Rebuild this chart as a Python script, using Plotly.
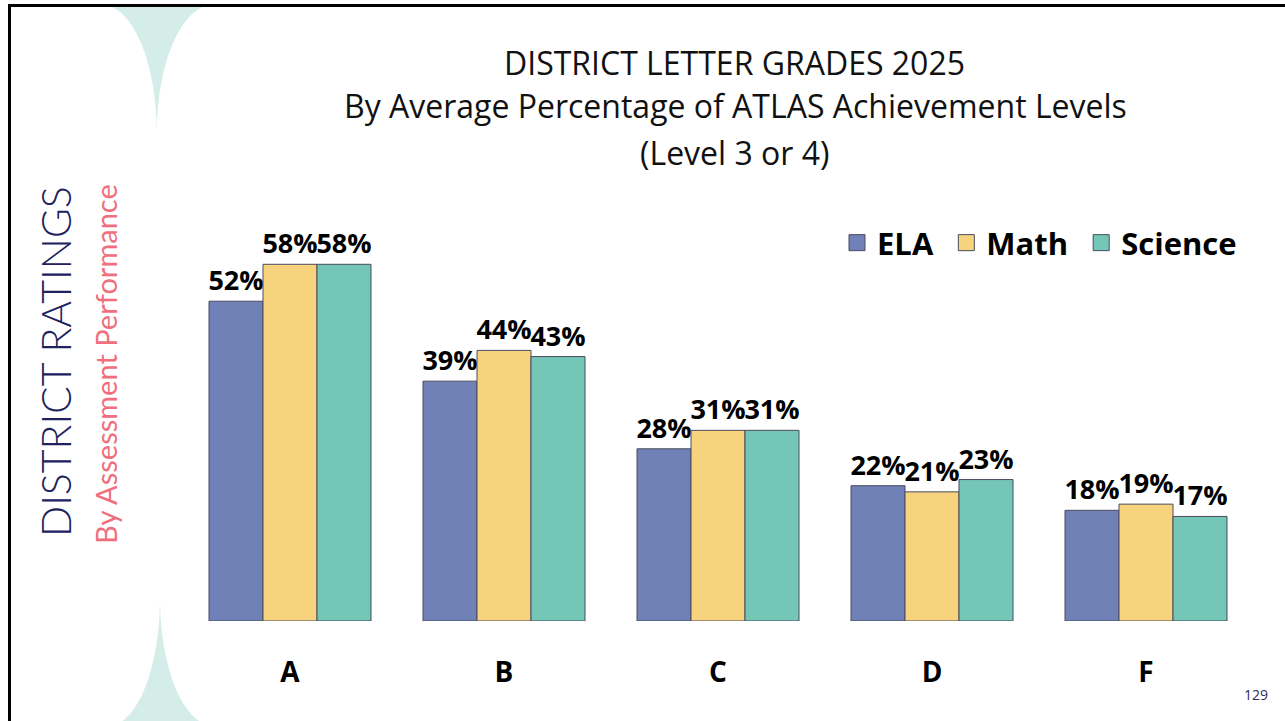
import plotly.graph_objects as go

# Achievement data: share of students at Level 3 or 4, by district letter grade
grades = ["A", "B", "C", "D", "F"]
ela = [52, 39, 28, 22, 18]
math = [58, 44, 31, 21, 19]
science = [58, 43, 31, 23, 17]

series_names = ["ELA", "Math", "Science"]
series_colors = ["#7081b8", "#f7d37d", "#74c6b6"]

W, H = 1285, 721


def px(x):
    return x / W


def py(y):
    return 1 - y / H


def path(points):
    """Build an SVG path in paper units from pixel-space commands."""
    out = []
    for cmd, *coords in points:
        pts = " ".join(f"{px(coords[i]):.5f},{py(coords[i + 1]):.5f}" for i in range(0, len(coords), 2))
        out.append(f"{cmd}{pts}")
    return " ".join(out) + " Z"


fig = go.Figure()

for name, vals, color in zip(series_names, [ela, math, science], series_colors):
    fig.add_trace(go.Bar(
        x=grades, y=vals, name=name,
        marker=dict(color=color, line=dict(color="#4b4b5e", width=1)),
        texttemplate="%{y}%", textposition="outside",
        textfont=dict(family="Open Sans", size=27, color="black", weight="bold"),
        constraintext="none", cliponaxis=False, showlegend=False,
    ))
    # legend swatch (trailing nbsp widens the gap between entries)
    fig.add_trace(go.Scatter(
        x=[None], y=[None], mode="markers", name=name + "\u00a0",
        marker=dict(symbol="square", size=20, color=color, line=dict(color="#4b4b5e", width=1)),
        showlegend=True,
    ))

teal = "#d4ede8"
shapes = [
    dict(type="path", xref="paper", yref="paper", layer="below", line=dict(width=0), fillcolor=teal,
         path=path([("M", 102, 5), ("C", 132.4, 5, 157, 62.3, 157, 133), ("C", 157, 62.3, 182, 5, 213, 5)])),
    dict(type="path", xref="paper", yref="paper", layer="below", line=dict(width=0), fillcolor=teal,
         path=path([("M", 108, 726), ("C", 136.7, 726, 160, 668.7, 160, 598), ("C", 160, 668.7, 184.2, 726, 214, 726)])),
    dict(type="rect", xref="paper", yref="paper", layer="above", line=dict(color="black", width=3),
         fillcolor="rgba(0,0,0,0)", x0=px(9.5), x1=px(1300), y0=py(5.5), y1=py(740)),
]

title_font = dict(family="Open Sans", size=32, color="#111111")
annotations = [
    dict(text="DISTRICT LETTER GRADES 2025", x=px(734), y=py(63)),
    dict(text="By Average Percentage of ATLAS Achievement Levels", x=px(735), y=py(106)),
    dict(text="(Level 3 or 4)", x=px(734), y=py(152)),
]
annotations = [dict(a, xref="paper", yref="paper", showarrow=False, xanchor="center", yanchor="middle",
                    font=title_font) for a in annotations]
annotations += [
    dict(text="DISTRICT RATINGS", x=px(55), y=py(362), textangle=-90,
         font=dict(family="Lato", size=41, color="#20215e", weight=300)),
    dict(text="By Assessment Performance", x=px(105), y=py(364), textangle=-90,
         font=dict(family="Lato", size=29, color="#ef6f7e")),
    dict(text="129", x=px(1256), y=py(694),
         font=dict(family="Open Sans", size=14, color="#2e2e5e")),
]
for a in annotations[3:]:
    a.update(xref="paper", yref="paper", showarrow=False, xanchor="center", yanchor="middle")

fig.update_layout(
    width=W, height=H,
    margin=dict(l=0, r=0, t=0, b=0),
    paper_bgcolor="white", plot_bgcolor="rgba(0,0,0,0)",
    barmode="group", bargap=0.243, bargroupgap=0,
    shapes=shapes, annotations=annotations,
    legend=dict(orientation="h", x=px(837), y=py(243), xanchor="left", yanchor="middle",
                font=dict(family="Open Sans", size=31, color="black", weight="bold"),
                bgcolor="rgba(0,0,0,0)", itemwidth=30, tracegroupgap=0),
    xaxis=dict(domain=[px(183), px(1253)], showgrid=False, zeroline=False, showline=False, ticks="",
               tickfont=dict(family="Open Sans", size=28, color="black", weight="bold"), ticklabelstandoff=32),
    yaxis=dict(domain=[py(621), py(6)], range=[0, 100], visible=False),
)

fig.write_html("out.html")
